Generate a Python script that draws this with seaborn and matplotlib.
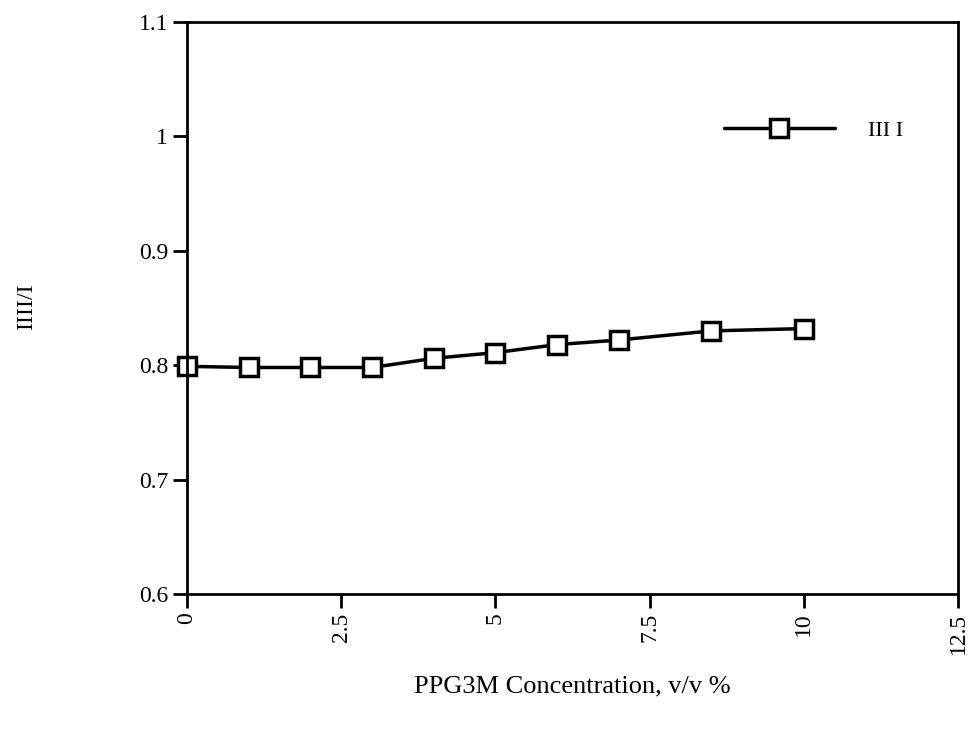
import pandas as pd
import seaborn as sns
import matplotlib.pyplot as plt

# PPG3M concentration (v/v %) and III/I ratio
concentration = [0, 1, 2, 3, 4, 5, 6, 7, 8.5, 10]
ratio = [0.799, 0.798, 0.798, 0.798, 0.806, 0.811, 0.818, 0.822, 0.830, 0.832]
x_ticks = [0, 2.5, 5, 7.5, 10, 12.5]
x_tick_labels = ["0", "2.5", "5", "7.5", "10", "12.5"]
y_ticks = [0.6, 0.7, 0.8, 0.9, 1.0, 1.1]
y_tick_labels = ["0.6", "0.7", "0.8", "0.9", "1", "1.1"]

sns.set_style("ticks")
plt.rcParams['font.family'] = ['Liberation Serif', 'DejaVu Serif']
plt.rcParams['text.color'] = 'black'
plt.rcParams['axes.labelcolor'] = 'black'
plt.rcParams['xtick.color'] = 'black'
plt.rcParams['ytick.color'] = 'black'

df = pd.DataFrame({"conc": concentration, "ratio": ratio})

fig = plt.figure(figsize=(9.78, 7.35), dpi=100)
ax = fig.add_axes([187 / 978, 1 - 594 / 735, (958 - 187) / 978, (594 - 22) / 735])

sns.lineplot(data=df, x="conc", y="ratio", ax=ax, color="black", linewidth=2.5,
             marker="s", markersize=13, markerfacecolor="white",
             markeredgecolor="black", markeredgewidth=2.5, label="III I",
             clip_on=False)

ax.set_xlim(0, 12.5)
ax.set_ylim(0.6, 1.1)
ax.set_xticks(x_ticks)
ax.set_xticklabels(x_tick_labels, rotation=90, fontsize=17)
ax.set_yticks(y_ticks)
ax.set_yticklabels(y_tick_labels, fontsize=17)
ax.tick_params(direction="out", length=10, width=2, color="black")
for s in ax.spines.values():
    s.set_linewidth(2)
    s.set_color("black")

ax.set_xlabel("PPG3M Concentration, v/v %", fontsize=19)
ax.xaxis.set_label_coords(0.5, -0.143)
ax.set_ylabel("IIII/I", fontsize=17)
ax.yaxis.set_label_coords(-0.195, 0.503)

leg = ax.legend(loc="center right", bbox_to_anchor=(0.955, 0.81), frameon=False,
                fontsize=16, handlelength=5, handletextpad=1.5)

fig.savefig("out.png", dpi=100)
